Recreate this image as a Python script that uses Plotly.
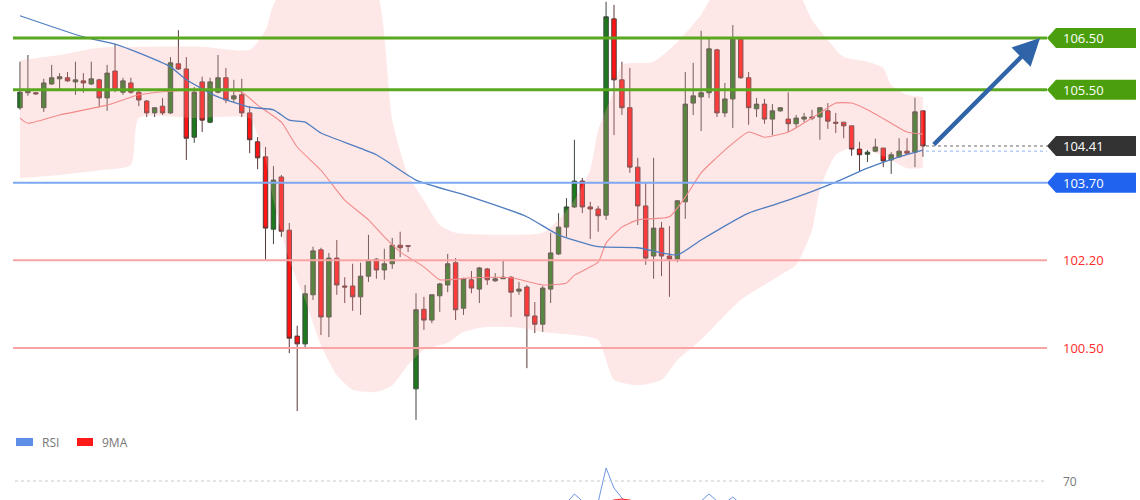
import plotly.graph_objects as go

# ---------------- data ----------------
opens = [105.15,105.44,105.44,105.15,105.61,105.71,105.73,105.65,105.67,105.61,
         105.69,105.34,105.86,105.45,105.63,105.45,105.28,105.05,105.18,105.05,
         106.00,105.90,104.58,105.65,104.87,105.45,105.73,105.32,105.40,105.05,
         104.49,104.20,102.80,103.81,102.78,100.73,100.58,101.53,102.40,101.10,
         102.24,101.70,101.70,101.49,101.89,102.22,102.01,102.13,102.49,102.48,
         99.71,101.25,101.04,101.51,101.72,102.15,101.27,101.82,101.64,102.03,
         101.80,101.84,101.87,101.60,101.68,101.12,100.96,101.64,102.32,102.84,
         103.23,103.73,103.23,103.19,103.07,106.87,105.69,105.15,104.00,103.25,
         102.28,102.82,102.28,102.22,103.33,105.24,105.36,105.44,106.27,105.05,
         105.32,106.48,105.73,105.13,105.22,104.93,105.09,104.93,104.84,104.93,
         104.97,104.97,105.09,104.87,104.87,104.80,104.35,104.25,104.31,104.37,
         104.14,104.20,104.31,104.29,105.09]
highs = [106.04,106.17,105.45,105.71,105.98,105.82,105.84,106.04,105.82,106.04,
         105.71,105.98,106.38,105.73,105.73,105.51,105.30,105.16,105.34,106.13,
         106.65,106.13,105.55,105.75,105.73,106.17,105.92,105.69,105.71,105.18,
         104.58,104.39,104.02,103.85,102.92,100.93,101.72,102.46,102.44,102.34,
         102.59,101.87,102.13,102.15,102.69,102.24,102.42,102.63,102.75,102.49,
         101.56,101.49,101.53,101.76,102.32,102.24,101.86,101.99,102.07,102.05,
         101.95,102.20,101.89,101.78,101.72,101.39,101.70,102.73,103.11,103.40,
         104.53,103.79,103.33,103.25,107.20,107.14,106.04,105.92,104.18,103.71,
         104.18,102.94,102.86,103.35,105.84,106.02,106.64,106.48,106.29,105.63,
         106.75,106.50,105.84,105.34,105.32,105.22,105.16,105.45,105.01,105.05,
         105.11,105.16,105.24,105.05,104.87,104.80,104.49,104.33,104.55,104.37,
         104.29,104.56,104.56,105.34,105.09]
lows = [105.11,105.38,105.40,105.07,105.59,105.51,105.65,105.40,105.44,105.59,
        105.16,105.09,105.45,105.40,105.42,105.18,104.97,104.97,105.01,105.03,
        105.88,104.14,104.47,104.68,104.85,105.43,105.24,105.24,104.97,104.27,
        103.96,102.20,102.51,102.65,100.40,99.28,100.52,101.43,100.75,100.71,
        101.53,101.37,101.22,101.14,101.78,101.84,101.82,102.03,102.26,102.36,
        99.11,100.85,100.98,101.20,101.58,101.04,101.14,101.56,101.37,101.72,
        101.78,101.84,101.10,101.53,100.11,100.79,100.81,101.37,102.30,102.65,
        103.21,103.11,102.61,102.75,102.98,104.62,105.01,103.89,102.88,102.11,
        101.84,101.89,101.49,102.16,103.00,105.01,104.70,105.34,104.97,104.97,
        104.76,105.71,104.82,104.97,104.84,104.62,105.07,104.68,104.76,104.87,
        104.91,104.53,104.74,104.66,104.56,104.22,103.91,104.10,104.29,104.00,
        103.87,104.18,104.24,104.00,104.20]
closes = [105.45,105.47,105.42,105.63,105.73,105.75,105.67,105.69,105.63,105.71,
          105.34,105.82,105.49,105.67,105.45,105.30,105.05,105.15,105.05,106.02,
          105.90,104.56,105.45,104.91,105.65,105.73,105.30,105.38,105.05,104.53,
          104.18,102.82,103.75,102.76,100.69,100.58,101.55,102.38,101.10,102.24,
          101.72,101.68,101.49,101.89,102.20,102.01,102.13,102.49,102.44,102.47,
          101.24,101.04,101.53,101.74,102.13,101.24,101.84,101.66,102.05,101.82,
          101.84,101.87,101.58,101.64,101.12,100.96,101.66,102.34,102.84,103.23,
          103.73,103.23,103.19,103.06,106.91,105.69,105.15,104.00,103.25,102.24,
          102.82,102.28,102.22,103.35,105.22,105.38,105.44,106.29,105.05,105.32,
          106.50,105.73,105.15,105.22,104.93,105.09,105.15,104.84,104.95,104.97,
          104.95,105.15,104.89,104.85,104.80,104.35,104.24,104.29,104.39,104.12,
          104.24,104.31,104.27,105.07,104.41]
bars = list(range(len(closes)))

# Bollinger-style band (bar index, price)
upper_idx = [0, 5, 10, 16, 23, 29, 31, 32, 34, 40, 45, 47, 49, 51, 53, 55, 61, 66, 68, 70, 72, 73, 75, 76, 80, 83, 86, 88, 93, 98, 100, 102, 104, 107, 109, 110, 112, 114]
upper_val = [106.07,106.17,106.31,106.33,106.33,106.27,106.65,107.14,107.60,108.20,107.43,104.91,103.85,103.36,102.88,102.73,102.69,102.73,102.98,103.36,103.95,104.72,105.49,105.98,106.04,106.42,106.95,107.43,107.62,107.43,106.85,106.46,106.13,106.04,105.92,105.59,105.40,105.36]
lower_idx = [0, 5, 10, 14, 15, 22, 29, 30, 31, 32, 34, 36, 38, 40, 42, 45, 47, 49, 51, 54, 56, 59, 63, 66, 70, 73, 74, 75, 78, 81, 83, 86, 91, 96, 98, 100, 101, 103, 105, 107, 110, 112, 114]
lower_val = [103.79,103.85,103.94,104.04,104.95,104.95,104.95,104.60,104.14,103.36,102.20,101.43,100.56,99.98,99.69,99.65,99.78,100.17,100.46,100.60,100.81,100.91,100.89,100.81,100.75,100.66,100.27,99.88,99.78,99.88,100.27,100.66,101.43,101.91,102.11,102.78,103.56,104.24,104.37,104.33,104.14,103.98,103.98]

ma_red_idx = [0, 1, 5, 11, 15, 19, 23, 28, 30, 33, 35, 38, 41, 44, 46, 48, 51, 53, 57, 62, 66, 69, 70, 73, 74, 76, 78, 82, 84, 86, 89, 92, 94, 97, 101, 103, 105, 107, 110, 112, 114]
ma_red_val = [104.95,104.85,105.01,105.20,105.40,105.47,105.49,105.45,105.20,104.87,104.39,103.94,103.36,102.98,102.65,102.36,102.07,101.82,101.86,101.86,101.72,101.76,101.91,102.16,102.53,102.84,102.98,103.04,103.42,103.89,104.33,104.68,104.58,104.68,105.05,105.24,105.24,105.11,104.85,104.68,104.64]

ma_blue_idx = [0, 8, 12, 15, 19, 21, 25, 29, 32, 34, 36, 38, 45, 50, 57, 64, 68, 73, 78, 83, 86, 92, 97, 103, 107, 111, 114]
ma_blue_val = [106.93,106.52,106.38,106.21,105.94,105.69,105.36,105.16,105.11,104.91,104.87,104.66,104.24,103.75,103.42,103.04,102.69,102.46,102.44,102.30,102.59,103.11,103.36,103.71,103.98,104.20,104.33]

# RSI panel (only the part that rises into view)
rsi_idx = [66, 69, 70, 71, 72, 73, 74, 75, 76, 77, 84, 86, 87, 88, 89, 90, 91, 93]
rsi_val = [44, 48, 57, 50, 46, 49, 83, 63, 53, 44, 45, 50, 57, 50, 48, 54, 47, 44]
rsi_ma_idx = [73, 74, 75, 76, 77, 78]
rsi_ma_val = [45, 48, 51, 52, 51, 47]

# key levels
green_levels = [106.50, 105.50]
blue_level = 103.70
red_levels = [102.20, 100.50]
last_price = 104.41
ma_now = 104.31
target = 106.50
rsi_level = 70

# ---------------- figure ----------------
W, H = 1140, 500
fig = go.Figure()

fig.add_trace(go.Scatter(x=upper_idx, y=upper_val, mode="lines", line=dict(width=0, shape="spline", smoothing=0.6),
                         hoverinfo="skip", showlegend=False))
fig.add_trace(go.Scatter(x=lower_idx, y=lower_val, mode="lines", line=dict(width=0, shape="spline", smoothing=0.6),
                         fill="tonexty", fillcolor="rgba(250,165,165,0.27)", hoverinfo="skip", showlegend=False))
fig.add_trace(go.Scatter(x=ma_red_idx, y=ma_red_val, mode="lines",
                         line=dict(color="#f28a8a", width=1.1, shape="spline", smoothing=0.5), showlegend=False))
fig.add_trace(go.Scatter(x=ma_blue_idx, y=ma_blue_val, mode="lines",
                         line=dict(color="#4f7dbf", width=1.3, shape="spline", smoothing=0.5), showlegend=False))

fig.add_trace(go.Candlestick(
    x=bars, open=opens, high=highs, low=lows, close=closes,
    increasing=dict(fillcolor="#1c7a1c", line=dict(color="#3d473d", width=1)),
    decreasing=dict(fillcolor="#ff1414", line=dict(color="#5a3838", width=1)),
    whiskerwidth=0, showlegend=False))

fig.add_trace(go.Scatter(x=rsi_idx, y=rsi_val, mode="lines", yaxis="y2",
                         line=dict(color="#6f95e6", width=1), showlegend=False))
fig.add_trace(go.Scatter(x=rsi_ma_idx, y=rsi_ma_val, mode="lines", yaxis="y2",
                         line=dict(color="#ff3030", width=1.2), showlegend=False))

px = lambda v: v / W
shapes = []
for lv in green_levels:
    shapes.append(dict(type="line", xref="paper", yref="y", x0=px(13), x1=px(1047), y0=lv, y1=lv,
                       line=dict(color="#5aa81f", width=3)))
shapes.append(dict(type="line", xref="paper", yref="y", x0=px(13), x1=px(1047), y0=blue_level, y1=blue_level,
                   line=dict(color="#7da8f2", width=2)))
for lv in red_levels:
    shapes.append(dict(type="line", xref="paper", yref="y", x0=px(13), x1=px(1047), y0=lv, y1=lv,
                       line=dict(color="#f8a4a4", width=2)))
shapes.append(dict(type="line", xref="paper", yref="y", x0=px(926), x1=px(1047), y0=last_price, y1=last_price,
                   line=dict(color="#666666", width=1, dash="dot")))
shapes.append(dict(type="line", xref="paper", yref="y", x0=px(926), x1=px(1047), y0=ma_now, y1=ma_now,
                   line=dict(color="#8fb0ee", width=1, dash="dot")))
shapes.append(dict(type="line", xref="paper", yref="y2", x0=px(15), x1=px(1045), y0=rsi_level, y1=rsi_level,
                   line=dict(color="#c8c8c8", width=1, dash="dot")))

# price tags on the right
y_range = (98.913, 107.235)
main_px = 430.0
half = 10 * (y_range[1] - y_range[0]) / main_px
tags = [(green_levels[0], "#4c9f0c"), (green_levels[1], "#4c9f0c"), (last_price, "#333333"), (blue_level, "#1f63ef")]
annotations = []
for lv, col in tags:
    x0, x1, x2 = px(1047), px(1056), px(1136)
    path = (f"M {x0},{lv} L {x1},{lv + half} L {x2},{lv + half} L {x2},{lv - half} "
            f"L {x1},{lv - half} Z")
    shapes.append(dict(type="path", xref="paper", yref="y", path=path, fillcolor=col, line=dict(width=0)))
    annotations.append(dict(x=px(1061), y=lv, xref="paper", yref="y", text=f"{lv:.2f}", showarrow=False,
                            xanchor="left", yanchor="middle", font=dict(color="white", size=13, family="Open Sans")))
for lv in red_levels:
    annotations.append(dict(x=px(1061), y=lv, xref="paper", yref="y", text=f"{lv:.2f}", showarrow=False,
                            xanchor="left", yanchor="middle", font=dict(color="#ff2a2a", size=13, family="Open Sans")))
annotations.append(dict(x=px(1061), y=rsi_level, xref="paper", yref="y2", text=str(rsi_level), showarrow=False,
                        xanchor="left", yanchor="middle", font=dict(color="#777777", size=12, family="Open Sans")))

# projection arrow
annotations.append(dict(x=128.8, y=target, xref="x", yref="y", ax=115.2, ay=last_price, axref="x", ayref="y",
                        text="", showarrow=True, arrowhead=2, arrowsize=1.2, arrowwidth=4.5, arrowcolor="#2f64a8"))

# RSI legend
shapes.append(dict(type="rect", xref="paper", yref="paper", x0=px(16), x1=px(33), y0=1 - 446 / H, y1=1 - 438 / H,
                   fillcolor="#5f8ee8", line=dict(width=0)))
shapes.append(dict(type="rect", xref="paper", yref="paper", x0=px(77), x1=px(93), y0=1 - 446 / H, y1=1 - 438 / H,
                   fillcolor="#ff1a1a", line=dict(width=0)))
annotations.append(dict(x=px(40), y=1 - 442 / H, xref="paper", yref="paper", text="RSI", showarrow=False,
                        xanchor="left", yanchor="middle", font=dict(color="#777777", size=12, family="Open Sans")))
annotations.append(dict(x=px(100), y=1 - 442 / H, xref="paper", yref="paper", text="9MA", showarrow=False,
                        xanchor="left", yanchor="middle", font=dict(color="#777777", size=12, family="Open Sans")))

spacing = 7.92
x0r = -20 / spacing
fig.update_layout(
    width=W, height=H, margin=dict(l=0, r=0, t=0, b=0),
    paper_bgcolor="white", plot_bgcolor="white", boxgap=0.2,
    xaxis=dict(range=[x0r, x0r + W / spacing], visible=False, rangeslider=dict(visible=False), fixedrange=True),
    yaxis=dict(range=list(y_range), domain=[1 - main_px / H, 1], visible=False, fixedrange=True),
    yaxis2=dict(range=[51, 101], domain=[0, 0.1], visible=False, fixedrange=True),
    shapes=shapes, annotations=annotations, showlegend=False,
)
fig.write_html("out.html", config={"displayModeBar": False, "staticPlot": True},
               post_script="document.body.style.margin='0';document.body.style.overflow='hidden';")
